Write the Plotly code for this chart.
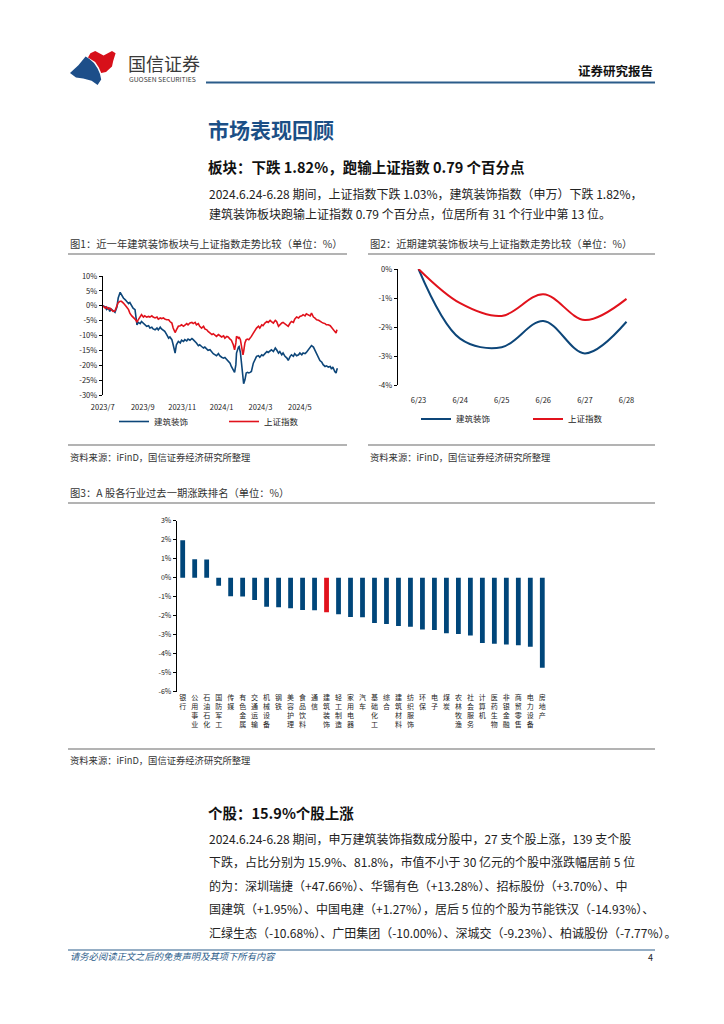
import plotly.graph_objects as go

W, H = 724, 1024
FONT = "Noto Sans CJK SC"
# the page body adds a default 8px margin around the figure; compensate for it
OFF = 8


def px(x):
    return (x - OFF) / W


def py(y):
    return 1 - (y - OFF) / H


# ---------------- Chart 1 data: 近一年建筑装饰板块与上证指数走势 (%) ----------------
c1_dates = [
    "2023-07-01", "2023-07-05", "2023-07-07", "2023-07-10", "2023-07-12", "2023-07-14",
    "2023-07-17", "2023-07-20", "2023-07-23", "2023-07-25", "2023-07-28", "2023-07-30",
    "2023-08-02", "2023-08-05", "2023-08-07", "2023-08-10", "2023-08-12", "2023-08-15",
    "2023-08-17", "2023-08-20", "2023-08-23", "2023-08-25", "2023-08-28", "2023-08-30",
    "2023-09-02", "2023-09-04", "2023-09-07", "2023-09-10", "2023-09-12", "2023-09-15",
    "2023-09-17", "2023-09-20", "2023-09-23", "2023-09-25", "2023-09-28", "2023-09-30",
    "2023-10-03", "2023-10-05", "2023-10-08", "2023-10-11", "2023-10-13", "2023-10-16",
    "2023-10-18", "2023-10-21", "2023-10-23", "2023-10-26", "2023-10-29", "2023-10-31",
    "2023-11-03", "2023-11-05", "2023-11-08", "2023-11-10", "2023-11-13", "2023-11-16",
    "2023-11-18", "2023-11-21", "2023-11-23", "2023-11-26", "2023-11-28", "2023-12-01",
    "2023-12-04", "2023-12-06", "2023-12-09", "2023-12-11", "2023-12-14", "2023-12-17",
    "2023-12-19", "2023-12-22", "2023-12-24", "2023-12-27", "2023-12-29", "2024-01-01",
    "2024-01-04", "2024-01-06", "2024-01-09", "2024-01-11", "2024-01-14", "2024-01-16",
    "2024-01-19", "2024-01-21", "2024-01-23", "2024-01-24", "2024-01-27", "2024-01-28",
    "2024-01-30", "2024-02-01", "2024-02-03", "2024-02-04", "2024-02-06", "2024-02-08",
    "2024-02-10", "2024-02-12", "2024-02-14", "2024-02-16", "2024-02-19", "2024-02-22",
    "2024-02-24", "2024-02-27", "2024-02-29", "2024-03-03", "2024-03-05", "2024-03-08",
    "2024-03-11", "2024-03-13", "2024-03-16", "2024-03-18", "2024-03-21", "2024-03-24",
    "2024-03-26", "2024-03-29", "2024-03-31", "2024-04-03", "2024-04-05", "2024-04-08",
    "2024-04-11", "2024-04-13", "2024-04-16", "2024-04-18", "2024-04-21", "2024-04-23",
    "2024-04-26", "2024-04-29", "2024-05-01", "2024-05-04", "2024-05-06", "2024-05-09",
    "2024-05-11", "2024-05-14", "2024-05-17", "2024-05-19", "2024-05-22", "2024-05-24",
    "2024-05-27", "2024-05-30", "2024-06-01", "2024-06-04", "2024-06-06", "2024-06-09",
    "2024-06-11", "2024-06-14", "2024-06-17", "2024-06-19", "2024-06-21", "2024-06-24",
    "2024-06-26", "2024-06-27", "2024-06-28",
]
c1_build = [
    0, -0.4, -1.3, -0.8, -1.9, -1.1,
    -1.6, -2.2, -0.4, 2.6, 4.5, 3.7,
    2.6, 2.0, 1.5, 0.7, 1.1, -0.2,
    -0.8, -1.3, -6.4, -5.6, -6.0, -5.3,
    -5.8, -6.4, -6.9, -6.7, -7.5, -7.2,
    -7.8, -8.1, -7.5, -8.1, -7.2, -7.8,
    -8.3, -8.6, -9.7, -10.9, -10.5, -11.4,
    -13.1, -15.9, -13.1, -12.0, -12.5, -11.6,
    -12.0, -11.4, -11.8, -11.2, -11.6, -11.0,
    -11.4, -12.0, -12.5, -13.4, -13.1, -13.7,
    -14.2, -13.9, -14.6, -15.0, -14.8, -15.7,
    -16.1, -16.5, -16.8, -16.1, -16.8, -17.3,
    -17.6, -17.4, -18.2, -18.7, -19.3, -20.4,
    -21.5, -22.4, -19.8, -15.9, -13.9, -13.7,
    -15.7, -19.8, -24.3, -26.2, -24.9, -22.6,
    -22.4, -22.6, -22.4, -22.1, -19.3, -17.6,
    -17.0, -16.8, -17.3, -16.5, -16.8, -16.1,
    -15.4, -15.7, -15.0, -14.8, -15.4, -14.2,
    -14.8, -15.9, -15.4, -16.5, -15.9, -17.0,
    -17.6, -18.4, -17.0, -16.5, -17.0, -16.1,
    -16.8, -16.5, -15.9, -16.5, -15.9, -16.1,
    -15.7, -14.8, -13.7, -13.4, -13.9, -14.8,
    -16.1, -17.6, -18.4, -19.0, -19.8, -20.4,
    -20.2, -20.6, -20.4, -21.3, -20.6, -22.1,
    -22.6, -21.7, -21.0,
]
c1_sh = [
    0, -0.8, -0.4, -1.1, -0.8, -1.3,
    -1.9, -1.7, -0.2, 1.1, 1.5, 1.5,
    0.9, 0.3, -0.4, -1.3, -2.5, -3.4,
    -3.8, -4.5, -5.4, -4.7, -3.6, -3.0,
    -3.8, -3.4, -3.8, -3.6, -3.8, -3.4,
    -3.8, -4.1, -3.8, -4.5, -4.1, -4.3,
    -4.1, -4.5, -4.7, -4.7, -5.3, -5.8,
    -7.5, -9.0, -8.1, -6.9, -6.7, -6.4,
    -6.9, -6.4, -6.0, -6.4, -5.8, -5.6,
    -6.0, -5.6, -6.4, -6.0, -6.9, -7.5,
    -6.9, -7.8, -8.1, -8.6, -9.2, -9.7,
    -9.4, -10.1, -10.3, -9.7, -10.1, -10.5,
    -10.1, -10.9, -10.3, -10.5, -11.2, -11.6,
    -13.1, -14.8, -12.5, -10.3, -10.9, -10.5,
    -11.4, -14.2, -16.5, -15.4, -12.5, -11.4,
    -11.2, -11.4, -10.9, -10.3, -9.2, -8.1,
    -7.5, -6.9, -7.5, -6.4, -6.7, -5.8,
    -5.3, -5.6, -4.9, -5.3, -5.8, -4.9,
    -5.3, -6.9, -6.4, -5.8, -5.6, -6.0,
    -6.4, -6.9, -5.8, -5.3, -5.6, -4.5,
    -3.8, -4.1, -3.6, -3.4, -3.0, -3.4,
    -2.7, -3.0, -3.4, -2.5, -3.8, -4.1,
    -4.7, -4.9, -5.3, -5.6, -5.8, -6.0,
    -6.4, -6.4, -6.7, -7.2, -7.8, -8.6,
    -9.2, -8.3, -8.1,
]
c1_tickvals = ["2023-07-01", "2023-09-01", "2023-11-01", "2024-01-01", "2024-03-01", "2024-05-01"]
c1_ticktext = ["2023/7", "2023/9", "2023/11", "2024/1", "2024/3", "2024/5"]
c1_yticks = [-30, -25, -20, -15, -10, -5, 0, 5, 10]

# ---------------- Chart 2 data: 近期走势 (%) ----------------
c2_days = ["6/23", "6/24", "6/25", "6/26", "6/27", "6/28"]
c2_build = [0, -2.40, -2.70, -1.79, -2.91, -1.82]
c2_sh = [0, -1.18, -1.62, -0.87, -1.76, -1.03]
c2_yticks = [-4, -3, -2, -1, 0]

# ---------------- Chart 3 data: 行业涨跌排名 (%) ----------------
c3_inds = ["银行", "公用事业", "石油石化", "国防军工", "传媒", "有色金属", "交通运输", "机械设备",
           "钢铁", "美容护理", "食品饮料", "通信", "建筑装饰", "轻工制造", "家用电器", "汽车",
           "基础化工", "综合", "建筑材料", "纺织服饰", "环保", "电子", "煤炭", "农林牧渔",
           "社会服务", "计算机", "医药生物", "非银金融", "商贸零售", "电力设备", "房地产"]
c3_vals = [1.97, 0.97, 0.96, -0.42, -0.98, -0.99, -1.18, -1.53,
           -1.56, -1.61, -1.70, -1.71, -1.82, -1.93, -2.07, -2.08,
           -2.39, -2.44, -2.54, -2.58, -2.72, -2.75, -2.93, -2.96,
           -3.04, -3.44, -3.47, -3.51, -3.56, -3.63, -4.74]
c3_highlight = "建筑装饰"
c3_yticks = [-6, -5, -4, -3, -2, -1, 0, 1, 2, 3]

BLUE = "#0d4679"
RED = "#e1121c"
BAR_BLUE = "#00467a"

fig = go.Figure()

# Chart 1 traces
fig.add_trace(go.Scatter(x=c1_dates, y=c1_build, mode="lines", name="建筑装饰",
                         line=dict(color=BLUE, width=1.6), xaxis="x", yaxis="y", legend="legend"))
fig.add_trace(go.Scatter(x=c1_dates, y=c1_sh, mode="lines", name="上证指数",
                         line=dict(color=RED, width=1.6), xaxis="x", yaxis="y", legend="legend"))

# Chart 2 traces
fig.add_trace(go.Scatter(x=c2_days, y=c2_build, mode="lines", name="建筑装饰",
                         line=dict(color=BLUE, width=2, shape="spline", smoothing=1.0),
                         xaxis="x2", yaxis="y2", legend="legend2"))
fig.add_trace(go.Scatter(x=c2_days, y=c2_sh, mode="lines", name="上证指数",
                         line=dict(color=RED, width=2, shape="spline", smoothing=1.0),
                         xaxis="x2", yaxis="y2", legend="legend2"))

# Chart 3 bars
bar_colors = [RED if n == c3_highlight else BAR_BLUE for n in c3_inds]
fig.add_trace(go.Bar(x=c3_inds, y=c3_vals, marker=dict(color=bar_colors, line=dict(width=0)),
                     width=0.4, xaxis="x3", yaxis="y3", showlegend=False))

tickfont = dict(family=FONT, size=7.5, color="#222")

axis_common = dict(showgrid=False, zeroline=False, linecolor="#000", tickcolor="#000",
                   automargin=False)

fig.update_layout(
    template="none",
    width=W, height=H, margin=dict(l=0, r=0, t=0, b=0, pad=0, autoexpand=False),
    paper_bgcolor="white", plot_bgcolor="white",
    font=dict(family=FONT, color="#222"),
    # chart 1
    xaxis=dict(domain=[px(102.7), px(339.3)], type="date", range=["2023-07-01", "2024-07-01"],
               tickvals=c1_tickvals, ticktext=c1_ticktext, showline=False, ticks="",
               tickfont=tickfont, anchor="y", ticklabelstandoff=6, **axis_common),
    yaxis=dict(domain=[py(395), py(276)], range=[-30, 10], tickvals=c1_yticks,
               ticktext=[f"{v}%" for v in c1_yticks], showline=True, linewidth=1,
               ticks="outside", ticklen=3, tickfont=tickfont, anchor="x", **axis_common),
    xaxis4=dict(overlaying="x", type="date", range=["2023-07-01", "2024-07-01"],
                tickvals=c1_tickvals + ["2024-07-01"], showticklabels=False,
                anchor="free", position=py(306), showline=True, linewidth=1,
                ticks="inside", ticklen=3, **axis_common),
    # chart 2
    xaxis2=dict(domain=[px(397.7), px(647.3)], type="category", range=[-0.5, 5.5],
                showline=False, ticks="", tickfont=tickfont, anchor="y2",
                ticklabelstandoff=9, **axis_common),
    yaxis2=dict(domain=[py(385), py(269)], range=[-4, 0], tickvals=c2_yticks,
                ticktext=[f"{v}%" for v in c2_yticks], showline=True, linewidth=1,
                ticks="outside", ticklen=3, tickfont=tickfont, anchor="x2", **axis_common),
    xaxis5=dict(overlaying="x2", type="linear", range=[-0.5, 5.5], tick0=-0.5, dtick=1,
                showticklabels=False, anchor="free", position=py(269), showline=True,
                linewidth=1, ticks="inside", ticklen=3, **axis_common),
    # chart 3
    xaxis3=dict(domain=[px(176.7), px(548.3)], type="category", range=[-0.5, 30.5],
                tickvals=c3_inds, ticktext=["<br>".join(list(n)) for n in c3_inds],
                showline=False, ticks="", tickangle=0,
                tickfont=dict(family=FONT, size=7, color="#222"), anchor="y3",
                ticklabelstandoff=0, **axis_common),
    yaxis3=dict(domain=[py(691.7), py(520.7)], range=[-6, 3], tickvals=c3_yticks,
                ticktext=[f"{v}%" for v in c3_yticks], showline=True, linewidth=1,
                ticks="outside", ticklen=3, tickfont=dict(family=FONT, size=7, color="#222"),
                anchor="x3", **axis_common),
    xaxis6=dict(overlaying="x3", type="linear", range=[-0.5, 30.5], tick0=-0.5, dtick=1,
                showticklabels=False, anchor="free", position=py(577.3), showline=True,
                linewidth=1, ticks="inside", ticklen=3, **axis_common),
    legend=dict(orientation="h", x=px(114), y=py(421.5), xanchor="left", yanchor="middle",
                font=dict(family=FONT, size=8.5, color="#222"), entrywidth=65,
                entrywidthmode="pixels", bgcolor="rgba(0,0,0,0)", itemwidth=30),
    legend2=dict(orientation="h", x=px(416), y=py(419), xanchor="left", yanchor="middle",
                 font=dict(family=FONT, size=8.5, color="#222"), entrywidth=67,
                 entrywidthmode="pixels", bgcolor="rgba(0,0,0,0)", itemwidth=30),
)

# ---------------- page decoration ----------------
shapes = []


def hline(x0, x1, y, color, width):
    shapes.append(dict(type="line", xref="paper", yref="paper", x0=px(x0), x1=px(x1),
                       y0=py(y), y1=py(y), line=dict(color=color, width=width)))


def poly(points, color):
    # logo outline, scaled up slightly about its top-left corner
    pts = [(70 + (x - 69) * 1.2, 51 + (y - 53) * 1.1) for x, y in points]
    d = "M " + " L ".join(f"{px(x):.5f},{py(y):.5f}" for x, y in pts) + " Z"
    shapes.append(dict(type="path", xref="paper", yref="paper", path=d,
                       fillcolor=color, line=dict(width=0)))


# logo
poly([(86, 55), (90, 53), (97, 57), (104, 53), (107, 55), (105, 62), (104, 67), (99, 72),
      (95, 73), (93, 68), (90, 63), (84, 59)], "#d7101a")
poly([(69, 73), (76, 66), (82, 58), (85, 60), (89, 64), (92, 69), (94, 74), (95, 79),
      (92, 84), (87, 80), (80, 78), (74, 77)], "#1d4e89")

hline(206, 655, 82.5, "#2b5c8a", 2)
hline(68, 347, 254, "#9a9a9a", 1.5)
hline(368, 655, 254, "#9a9a9a", 1.5)
hline(68, 347, 445, "#9a9a9a", 1.5)
hline(368, 655, 445, "#9a9a9a", 1.5)
hline(68, 655, 503, "#9a9a9a", 1.5)
hline(68, 655, 749, "#9a9a9a", 1.5)
hline(68, 655, 950, "#2b5c8a", 1)

annotations = []


def text(x, y, s, size, color="#222", bold=False, anchor="left"):
    if bold:
        s = f"<b>{s}</b>"
    annotations.append(dict(x=px(x), y=py(y), xref="paper", yref="paper", text=s,
                            showarrow=False, xanchor=anchor, yanchor="middle",
                            font=dict(family=FONT, size=size, color=color)))


text(126, 63, "国信证券", 18, "#3a3a3a")
text(127, 78.5, "GUOSEN SECURITIES", 6.8, "#3a3a3a")
text(655, 70, "证券研究报告", 12.5, "#111", bold=True, anchor="right")

text(206, 129, "市场表现回顾", 21, "#1b4f86", bold=True)
text(206, 166, "板块：下跌 1.82%，跑输上证指数 0.79 个百分点", 14.5, "#111", bold=True)
text(207, 193, "2024.6.24-6.28 期间，上证指数下跌 1.03%，建筑装饰指数（申万）下跌 1.82%，", 12, "#222")
text(207, 213, "建筑装饰板块跑输上证指数 0.79 个百分点，位居所有 31 个行业中第 13 位。", 12, "#222")

text(68, 243, "图1：近一年建筑装饰板块与上证指数走势比较（单位：%）", 10.3, "#333")
text(368, 243, "图2：近期建筑装饰板块与上证指数走势比较（单位：%）", 10.3, "#333")
text(68, 457, "资料来源：iFinD，国信证券经济研究所整理", 9.3, "#333")
text(368, 457, "资料来源：iFinD，国信证券经济研究所整理", 9.3, "#333")
text(68, 492, "图3：A 股各行业过去一期涨跌排名（单位：%）", 10.3, "#333")
text(68, 760, "资料来源：iFinD，国信证券经济研究所整理", 9.3, "#333")

text(206, 812, "个股：15.9%个股上涨", 14.5, "#111", bold=True)
para = [
    "2024.6.24-6.28 期间，申万建筑装饰指数成分股中，27 支个股上涨，139 支个股",
    "下跌，占比分别为 15.9%、81.8%，市值不小于 30 亿元的个股中涨跌幅居前 5 位",
    "的为：深圳瑞捷（+47.66%）、华锡有色（+13.28%）、招标股份（+3.70%）、中",
    "国建筑（+1.95%）、中国电建（+1.27%），居后 5 位的个股为节能铁汉（-14.93%）、",
    "汇绿生态（-10.68%）、广田集团（-10.00%）、深城交（-9.23%）、柏诚股份（-7.77%）。",
]
for i, line in enumerate(para):
    text(207, 838 + i * 23.5, line, 12, "#222")

text(68, 956, "<i>请务必阅读正文之后的免责声明及其项下所有内容</i>", 9.3, "#2b5c8a")
text(655, 957, "4", 9, "#222", anchor="right")

fig.update_layout(shapes=shapes, annotations=annotations)

fig.write_html("out.html")
